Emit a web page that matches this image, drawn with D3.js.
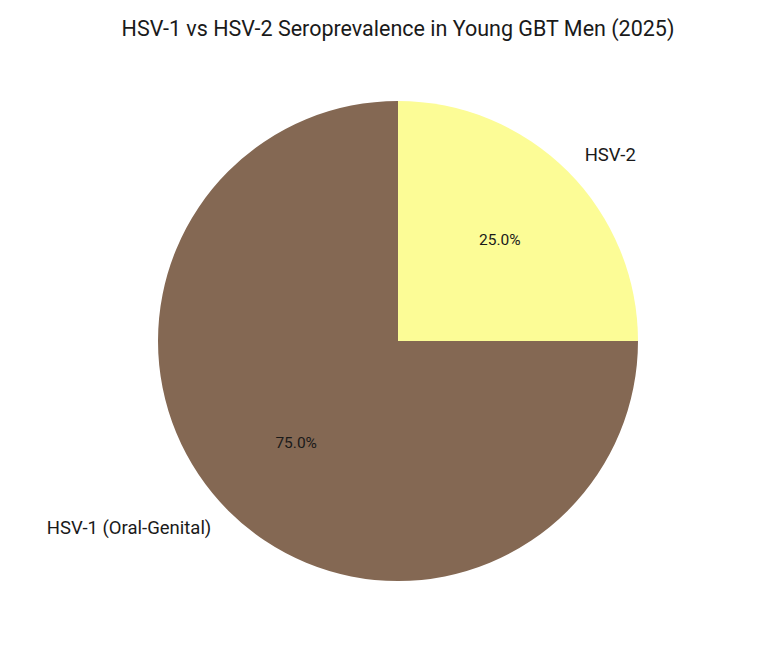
<!DOCTYPE html>
<html>
<head>
<meta charset="utf-8">
<script src="https://d3js.org/d3.v7.min.js"></script>
<style>
  body { margin: 0; background: #fff; }
  text { font-family: Roboto, "Open Sans", sans-serif; fill: #1a1a1a; }
</style>
</head>
<body>
<div id="chart"></div>
<script>
var labels = ["HSV-1 (Oral-Genital)", "HSV-2"];
var values = [75, 25];
var colors = ["#846853", "#fcfc96"];

var width = 768, height = 658;
var cx = 398, cy = 341, radius = 240;

var svg = d3.select("#chart").append("svg")
    .attr("width", width)
    .attr("height", height);

svg.append("text")
    .attr("x", 398)
    .attr("y", 36)
    .attr("text-anchor", "middle")
    .style("font-size", "21.5px")
    .text("HSV-1 vs HSV-2 Seroprevalence in Young GBT Men (2025)");

var total = d3.sum(values);
var data = labels.map(function(d, i) { return { label: d, value: values[i], color: colors[i] }; });

// start at 12 o'clock and go counterclockwise, like the original
var pie = d3.pie().sort(null).value(function(d) { return d.value; })
    .startAngle(0).endAngle(-2 * Math.PI);

var arc = d3.arc().innerRadius(0).outerRadius(radius);

var g = svg.append("g").attr("transform", "translate(" + cx + "," + cy + ")");

var slices = pie(data);

g.selectAll("path").data(slices).enter().append("path")
    .attr("d", arc)
    .attr("fill", function(d) { return d.data.color; });

function mid(d) { return (d.startAngle + d.endAngle) / 2; }

// percent labels at 0.6 r
g.selectAll(".pct").data(slices).enter().append("text")
    .attr("class", "pct")
    .attr("x", function(d) { return Math.sin(mid(d)) * radius * 0.6; })
    .attr("y", function(d) { return -Math.cos(mid(d)) * radius * 0.6; })
    .attr("dy", "0.35em")
    .attr("text-anchor", "middle")
    .style("font-size", "15.5px")
    .text(function(d) { return (d.data.value / total * 100).toFixed(1) + "%"; });

// category labels at 1.1 r
g.selectAll(".lbl").data(slices).enter().append("text")
    .attr("class", "lbl")
    .attr("x", function(d) { return Math.sin(mid(d)) * radius * 1.1; })
    .attr("y", function(d) { return -Math.cos(mid(d)) * radius * 1.1; })
    .attr("dy", "0.35em")
    .attr("text-anchor", function(d) { return Math.sin(mid(d)) > 0 ? "start" : "end"; })
    .style("font-size", "18.5px")
    .text(function(d) { return d.data.label; });
</script>
</body>
</html>
